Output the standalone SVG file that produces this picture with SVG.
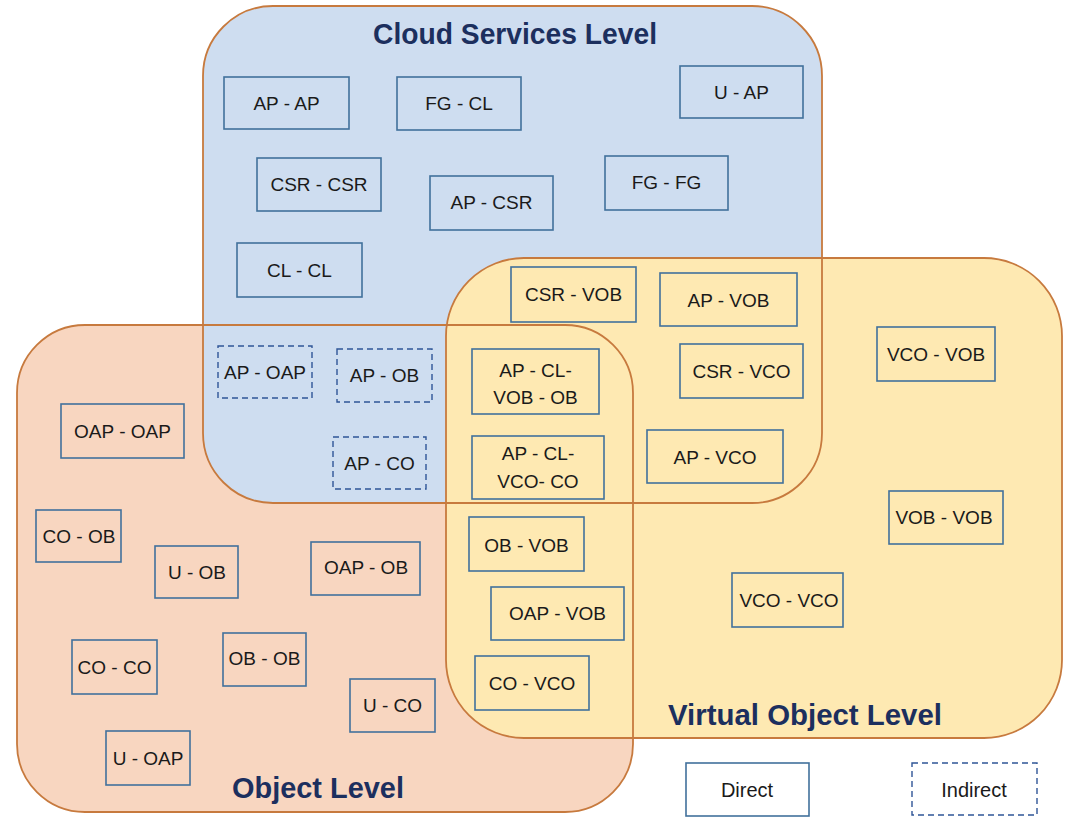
<svg xmlns="http://www.w3.org/2000/svg" width="1065" height="817" viewBox="0 0 1065 817">
<style>
.nb{fill:none;stroke:#41719C;stroke-width:1.6}
.nd{fill:none;stroke:#2F5597;stroke-width:1.4;stroke-dasharray:6 4}
.t{font-family:"Liberation Sans",Arial,sans-serif;font-size:19px;fill:#1a1a1a;text-anchor:middle}
.lg{font-family:"Liberation Sans",Arial,sans-serif;font-size:20px;fill:#1a1a1a;text-anchor:middle}
.title{font-family:"Liberation Sans",Arial,sans-serif;font-size:29px;font-weight:bold;fill:#1C2F5E;text-anchor:middle}
.rs{fill:none;stroke:#C77A3E;stroke-width:1.8}
</style>
<rect width="1065" height="817" fill="#FFFFFF"/>
<g id="regions">
<rect id="object-level-fill" x="17" y="325" width="616" height="487" rx="68" fill="#F8D6C0"/>
<rect id="cloud-level-fill" x="203" y="6" width="619" height="497" rx="70" fill="#CEDDF0"/>
<rect id="virtual-level-fill" x="446" y="258" width="616" height="480" rx="78" fill="#FEE9B2"/>
<rect class="rs" x="17" y="325" width="616" height="487" rx="68"/>
<rect class="rs" x="203" y="6" width="619" height="497" rx="70"/>
<rect class="rs" x="446" y="258" width="616" height="480" rx="78"/>
<text class="title" x="515" y="44" textLength="284" lengthAdjust="spacingAndGlyphs">Cloud Services Level</text>
<text class="title" x="318" y="798" textLength="172" lengthAdjust="spacingAndGlyphs">Object Level</text>
<text class="title" x="805" y="725" textLength="274" lengthAdjust="spacingAndGlyphs">Virtual Object Level</text>
</g>
<g id="connectors"></g>
<g id="n1"><rect class="nb" x="224" y="77" width="125" height="52"/><text class="t" x="286.5" y="110">AP - AP</text></g>
<g id="n2"><rect class="nb" x="397" y="77" width="124" height="53"/><text class="t" x="459" y="110">FG - CL</text></g>
<g id="n3"><rect class="nb" x="680" y="66" width="123" height="52"/><text class="t" x="741.5" y="99">U - AP</text></g>
<g id="n4"><rect class="nb" x="257" y="158" width="124" height="53"/><text class="t" x="319" y="191">CSR - CSR</text></g>
<g id="n5"><rect class="nb" x="430" y="176" width="123" height="54"/><text class="t" x="491.5" y="209">AP - CSR</text></g>
<g id="n6"><rect class="nb" x="605" y="156" width="123" height="54"/><text class="t" x="666.5" y="189">FG - FG</text></g>
<g id="n7"><rect class="nb" x="237" y="243" width="125" height="54"/><text class="t" x="299.5" y="277">CL - CL</text></g>
<g id="n8"><rect class="nd" x="218" y="346" width="94" height="52"/><text class="t" x="265" y="379">AP - OAP</text></g>
<g id="n9"><rect class="nd" x="337" y="349" width="95" height="53"/><text class="t" x="384.5" y="382">AP - OB</text></g>
<g id="n10"><rect class="nd" x="333" y="437" width="93" height="52"/><text class="t" x="379.5" y="470">AP - CO</text></g>
<g id="n11"><rect class="nb" x="511" y="267" width="125" height="55"/><text class="t" x="573.5" y="301">CSR - VOB</text></g>
<g id="n12"><rect class="nb" x="660" y="273" width="137" height="53"/><text class="t" x="728.5" y="307">AP - VOB</text></g>
<g id="n13"><rect class="nb" x="680" y="344" width="123" height="54"/><text class="t" x="741.5" y="378">CSR - VCO</text></g>
<g id="n14"><rect class="nb" x="647" y="430" width="136" height="53"/><text class="t" x="715" y="464">AP - VCO</text></g>
<g id="n15"><rect class="nb" x="472" y="349" width="127" height="65"/><text class="t" x="535.5" y="377">AP - CL-</text><text class="t" x="535.5" y="404">VOB - OB</text></g>
<g id="n16"><rect class="nb" x="472" y="436" width="132" height="63"/><text class="t" x="538" y="460">AP - CL-</text><text class="t" x="538" y="488">VCO- CO</text></g>
<g id="n17"><rect class="nb" x="469" y="517" width="115" height="54"/><text class="t" x="526.5" y="552">OB - VOB</text></g>
<g id="n18"><rect class="nb" x="491" y="587" width="133" height="53"/><text class="t" x="557.5" y="620">OAP - VOB</text></g>
<g id="n19"><rect class="nb" x="475" y="656" width="114" height="54"/><text class="t" x="532" y="690">CO - VCO</text></g>
<g id="n20"><rect class="nb" x="877" y="327" width="118" height="54"/><text class="t" x="936" y="361">VCO - VOB</text></g>
<g id="n21"><rect class="nb" x="889" y="491" width="114" height="53"/><text class="t" x="944" y="524">VOB - VOB</text></g>
<g id="n22"><rect class="nb" x="732" y="573" width="111" height="54"/><text class="t" x="789" y="607">VCO - VCO</text></g>
<g id="n23"><rect class="nb" x="61" y="404" width="123" height="54"/><text class="t" x="122.5" y="438">OAP - OAP</text></g>
<g id="n24"><rect class="nb" x="36" y="510" width="85" height="52"/><text class="t" x="79" y="543">CO - OB</text></g>
<g id="n25"><rect class="nb" x="155" y="546" width="83" height="52"/><text class="t" x="197" y="579">U - OB</text></g>
<g id="n26"><rect class="nb" x="311" y="542" width="109" height="53"/><text class="t" x="366" y="574">OAP - OB</text></g>
<g id="n27"><rect class="nb" x="72" y="640" width="85" height="54"/><text class="t" x="114.5" y="674">CO - CO</text></g>
<g id="n28"><rect class="nb" x="223" y="633" width="83" height="53"/><text class="t" x="264.5" y="665">OB - OB</text></g>
<g id="n29"><rect class="nb" x="350" y="679" width="85" height="53"/><text class="t" x="392.5" y="712">U - CO</text></g>
<g id="n30"><rect class="nb" x="106" y="731" width="84" height="54"/><text class="t" x="148" y="765">U - OAP</text></g>
<g id="legend-direct"><rect class="nb" x="686" y="763" width="123" height="53" fill="#FFFFFF"/><text class="lg" x="747" y="797">Direct</text></g>
<g id="legend-indirect"><rect class="nd" x="912" y="763" width="125" height="52"/><text class="lg" x="974" y="797">Indirect</text></g>
</svg>
